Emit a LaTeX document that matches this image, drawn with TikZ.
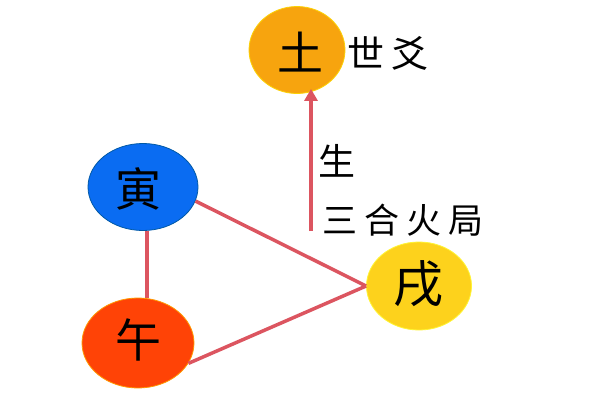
\documentclass[tikz,border=0pt]{standalone}
\usepackage{fontspec}
\newfontfamily\cjk{Noto Sans CJK SC}
\usetikzlibrary{shapes.geometric,arrows.meta,calc}
\definecolor{linkred}{HTML}{DC5560}
\definecolor{cOrange}{HTML}{F7A40E}
\definecolor{cBlue}{HTML}{0A6CF2}
\definecolor{cRed}{HTML}{FF4306}
\definecolor{cYellow}{HTML}{FDD21C}
\tikzset{
  ball/.style={ellipse, inner sep=0pt, line width=0.8pt},
  big/.style={font=\cjk\fontsize{46}{46}\selectfont, text=black},
  lbl/.style={font=\cjk\fontsize{35}{35}\selectfont, text=black, inner sep=0pt},
  link/.style={draw=linkred, line width=3.5pt},
  arrowline/.style={draw=linkred, line width=3.5pt, -{Triangle[length=12pt,width=13pt]}}
}
\begin{document}
\begin{tikzpicture}[x=1pt,y=-1pt]
\fill[white] (0,0) rectangle (600,400);
\useasboundingbox (0,0) rectangle (600,400);
% balls
\node[ball, fill=cOrange, draw=yellow!70!orange, minimum width=96pt, minimum height=87pt] (tu) at (297,50) {};
\node[big] at (300,52) {土};
\node[ball, fill=cBlue, draw=teal!70!blue, minimum width=110pt, minimum height=87pt] (yin) at (143,187) {};
\node[big] at (138,189) {寅};
\node[ball, fill=cRed, draw=orange!80!yellow, minimum width=112pt, minimum height=90pt] (wu) at (138,343) {};
\node[big] at (138,340) {午};
\node[ball, fill=cYellow, draw=yellow!80!white, minimum width=105pt, minimum height=88pt] (xu) at (419,286) {};
\node[big, font=\cjk\fontsize{50}{50}\selectfont] at (418,284) {戌};
% labels
\node[lbl, font=\cjk\fontsize{37}{37}\selectfont] (shiyao) at (388,53) {世\hspace{8pt}爻};
\node[lbl, font=\cjk\fontsize{37}{37}\selectfont] (sheng) at (337,161) {生};
\node[lbl] (sanhe) at (403,220) {三\hspace{7pt}合\hspace{7pt}火\hspace{7pt}局};
\coordinate (tail) at (311,231);
% connectors
\draw[link] (yin.-15) -- (xu.west);
\draw[link] (wu.-22) -- (xu.west);
\draw[link] ([xshift=4pt]yin.south) -- ([xshift=9pt]wu.north);
\draw[arrowline] (tail) -- ([yshift=5pt]tail |- tu.south);
\end{tikzpicture}
\end{document}
